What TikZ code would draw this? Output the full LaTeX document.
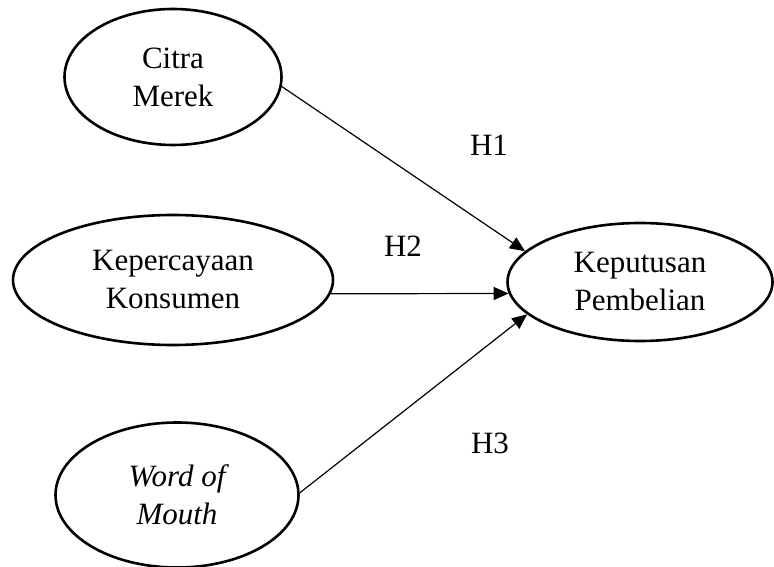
\documentclass[tikz,border=0pt]{standalone}
\usepackage{fontspec}
\setmainfont{Liberation Serif}
\usetikzlibrary{shapes.geometric,arrows.meta}
\newcommand\diagfs{\fontsize{15.5}{19}\selectfont}
\tikzset{
  latent/.style={draw, ellipse, line width=1.3pt, inner sep=0pt, align=center, font=\diagfs},
  path/.style={line width=0.6pt, -{Triangle[length=7.5pt,width=6.5pt]}},
  hlabel/.style={font=\diagfs, inner sep=0pt}
}
\begin{document}
\begin{tikzpicture}[x=0.5pt,y=-0.5pt]
\useasboundingbox (0,0) rectangle (774,566);
\node[latent, minimum width=108.5pt, minimum height=68pt] (citra) at (173,77) {Citra\\Merek};
\node[latent, minimum width=160pt, minimum height=65pt] (kep) at (173,280) {Kepercayaan\\Konsumen};
\node[latent, minimum width=121.5pt, minimum height=72.5pt] (wom) at (177,495) {\itshape Word of\\\itshape Mouth};
\node[latent, minimum width=132.5pt, minimum height=59pt] (kpt) at (640,282) {Keputusan\\Pembelian};
\draw[path] (citra.-5) -- (kpt.165.6);
\draw[path] (kep.-5) -- (kpt.185);
\draw[path] (wom.1) -- (kpt.196.3);
\node[hlabel] (h1) at (489,145) {H1};
\node[hlabel] (h2) at (403,246) {H2};
\node[hlabel] (h3) at (490,443) {H3};
\end{tikzpicture}
\end{document}
